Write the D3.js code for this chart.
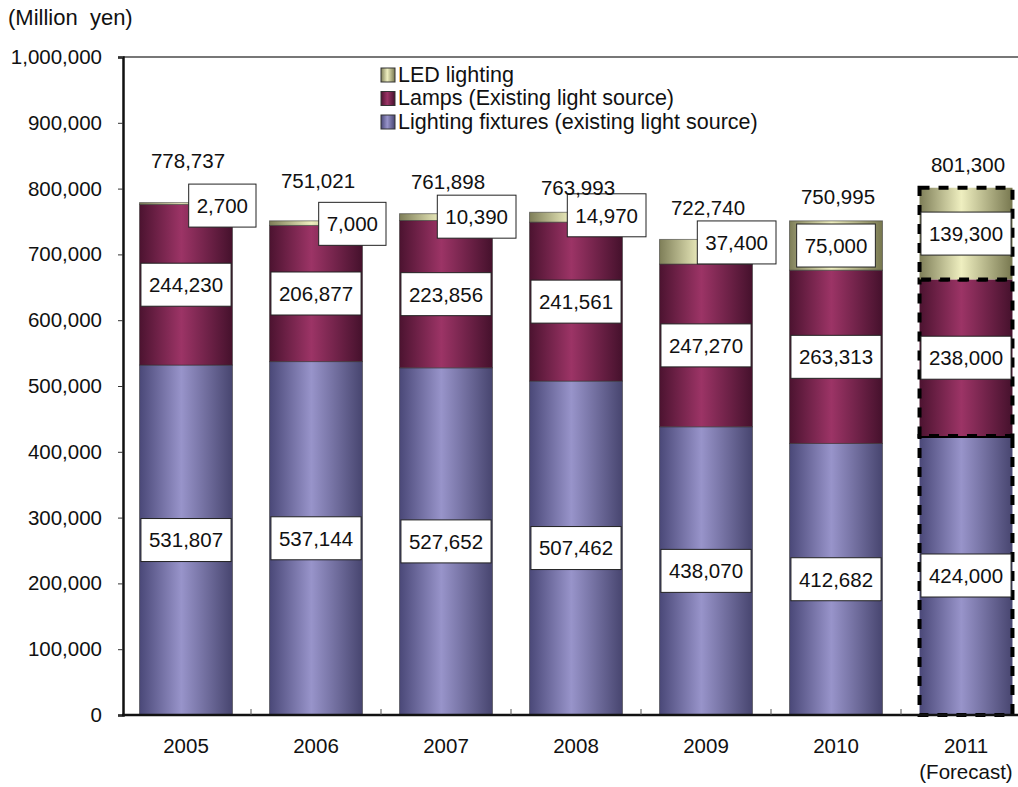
<!DOCTYPE html>
<html>
<head>
<meta charset="utf-8">
<script src="https://cdn.jsdelivr.net/npm/d3@7.9.0/dist/d3.min.js"></script>
<style>
  body { margin: 0; background: #fff; }
  svg { font-family: "Liberation Sans", Arial, sans-serif; }
</style>
</head>
<body>
<div id="chart"></div>
<script>
const years = ['2005', '2006', '2007', '2008', '2009', '2010', '2011'];
const fixtures = [531807, 537144, 527652, 507462, 438070, 412682, 424000];
const lamps = [244230, 206877, 223856, 241561, 247270, 263313, 238000];
const led = [2700, 7000, 10390, 14970, 37400, 75000, 139300];
const totals = [778737, 751021, 761898, 763993, 722740, 750995, 801300];
const yTicks = [0, 100000, 200000, 300000, 400000, 500000, 600000, 700000, 800000, 900000, 1000000];
const seriesNames = ['LED lighting', 'Lamps (Existing light source)', 'Lighting fixtures (existing light source)'];

// total labels were placed by hand in the original, so lift each one a bit differently
const totalLift = [42, 40, 32, 25, 32, 24, 23];

const width = 1018, height = 787;
const plotLeft = 123, plotTop = 57, plotBottom = 715;

const svg = d3.select('#chart').append('svg')
  .attr('width', width).attr('height', height);

const x = d3.scaleBand().domain(years).range([121, 121 + 130 * years.length]).paddingInner(0.285).paddingOuter(0.1425);
const y = d3.scaleLinear().domain([0, 1000000]).range([plotBottom, plotTop]);
const fmt = d3.format(',');

// gradients
const defs = svg.append('defs');
const grads = {
  fix: ['#4a4878', '#9894ca', '#47456f'],
  lamp: ['#4c1330', '#9c3466', '#45112c'],
  led: ['#7e7e58', '#efefc0', '#77774f']
};
Object.entries(grads).forEach(([k, c]) => {
  const g = defs.append('linearGradient').attr('id', 'g-' + k)
    .attr('x1', 0).attr('x2', 1).attr('y1', 0).attr('y2', 0);
  g.append('stop').attr('offset', '0%').attr('stop-color', c[0]);
  g.append('stop').attr('offset', '45%').attr('stop-color', c[1]);
  g.append('stop').attr('offset', '100%').attr('stop-color', c[2]);
});

// frame top line
svg.append('line').attr('x1', plotLeft).attr('x2', width).attr('y1', plotTop).attr('y2', plotTop)
  .attr('stroke', '#777').attr('stroke-width', 2);

// stack
const rows = years.map((yr, i) => ({ year: yr, fix: fixtures[i], lamp: lamps[i], led: led[i] }));
const stack = d3.stack().keys(['fix', 'lamp', 'led'])(rows);

const bars = svg.append('g');
stack.forEach(layer => {
  bars.selectAll(null).data(layer).enter().append('rect')
    .attr('x', d => x(d.data.year))
    .attr('width', x.bandwidth())
    .attr('y', d => y(d[1]))
    .attr('height', d => y(d[0]) - y(d[1]))
    .attr('fill', `url(#g-${layer.key})`)
    .attr('stroke', d => d.data.year === '2011' ? '#000' : 'rgba(50,50,50,0.55)')
    .attr('stroke-width', d => d.data.year === '2011' ? 4 : 1)
    .attr('stroke-dasharray', d => d.data.year === '2011' ? '10,9' : null);
});

// axes
const yAxis = svg.append('g').attr('transform', `translate(${plotLeft},0)`)
  .call(d3.axisLeft(y).tickValues(yTicks).tickFormat(fmt).tickSize(5).tickPadding(16));
yAxis.select('.domain').attr('stroke', '#111').attr('stroke-width', 2.5);
yAxis.selectAll('.tick line').attr('stroke', '#333');
yAxis.selectAll('.tick text').attr('font-size', '20.5px').attr('fill', '#111')
  .attr('font-family', '"Liberation Sans", Arial, sans-serif');

const xLine = svg.append('g').attr('transform', `translate(0,${plotBottom})`);
xLine.append('line').attr('x1', plotLeft - 1).attr('x2', width).attr('stroke', '#111').attr('stroke-width', 2.5);
xLine.selectAll('line.tk').data(years.slice(1)).enter().append('line').attr('class', 'tk')
  .attr('x1', d => x(d) - x.step() * x.paddingInner() / 2)
  .attr('x2', d => x(d) - x.step() * x.paddingInner() / 2)
  .attr('y1', 0).attr('y2', -6).attr('stroke', '#555');
xLine.selectAll('text.yr').data(years).enter().append('text').attr('class', 'yr')
  .attr('x', d => x(d) + x.bandwidth() / 2).attr('y', 38)
  .attr('text-anchor', 'middle').attr('font-size', '20.5px').attr('fill', '#111').text(d => d);
xLine.append('text').attr('x', x('2011') + x.bandwidth() / 2).attr('y', 64)
  .attr('text-anchor', 'middle').attr('font-size', '20.5px').attr('fill', '#111').text('(Forecast)');

svg.append('text').attr('x', 8).attr('y', 25).attr('font-size', '22px').attr('fill', '#111')
  .attr('xml:space', 'preserve').text('(Million  yen)');

// value boxes
const labels = svg.append('g');
function box(cx, cy, txt, anchorRight) {
  const g = labels.append('g');
  const t = g.append('text').attr('font-size', '20.5px').attr('fill', '#111')
    .attr('text-anchor', 'middle').attr('dy', '0.36em').text(txt);
  const w = t.node().getComputedTextLength() + 16;
  const h = 43;
  const bx = anchorRight ? cx - w : cx - w / 2;
  g.insert('rect', 'text').attr('x', bx).attr('y', cy - h / 2).attr('width', w).attr('height', h)
    .attr('fill', '#fff').attr('stroke', '#222').attr('stroke-width', 1);
  t.attr('x', bx + w / 2).attr('y', cy);
}
stack.forEach(layer => {
  layer.forEach(d => {
    const c = x(d.data.year) + x.bandwidth() / 2;
    const v = d[1] - d[0];
    if (layer.key === 'led' && v < 50000) {
      box(c + 70, y(d[1]) + 3, fmt(v), true);
    } else {
      box(c, (y(d[0]) + y(d[1])) / 2, fmt(v), false);
    }
  });
});

// totals
svg.append('g').selectAll('text').data(totals).enter().append('text')
  .attr('x', (d, i) => x(years[i]) + x.bandwidth() / 2 + 2)
  .attr('y', (d, i) => y(d) - totalLift[i])
  .attr('dy', '0.36em').attr('text-anchor', 'middle').attr('font-size', '20.5px').attr('fill', '#111')
  .text(d => fmt(d));

// legend
const legendKeys = ['led', 'lamp', 'fix'];
const lg = svg.append('g').attr('transform', 'translate(381,74)');
seriesNames.forEach((name, i) => {
  const row = lg.append('g').attr('transform', `translate(0,${i * 23.5})`);
  row.append('rect').attr('x', 0).attr('y', -6).attr('width', 14).attr('height', 14)
    .attr('fill', `url(#g-${legendKeys[i]})`).attr('stroke', '#333').attr('stroke-width', 1);
  row.append('text').attr('x', 17).attr('dy', '0.36em').attr('font-size', '21.5px').attr('fill', '#111').text(name);
});
</script>
</body>
</html>
